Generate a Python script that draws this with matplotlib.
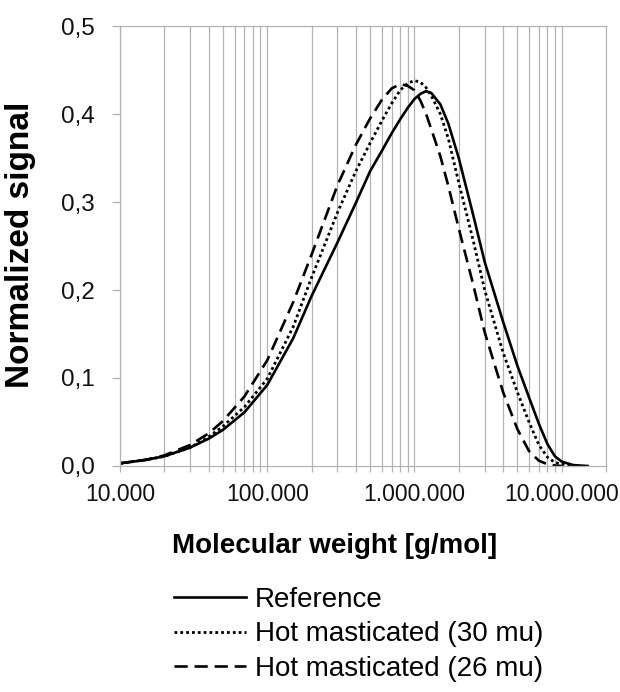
import numpy as np
import matplotlib
matplotlib.use("Agg")
import matplotlib.pyplot as plt
from matplotlib.ticker import FixedLocator, FuncFormatter, NullFormatter

plt.rcParams['font.family'] = ['Liberation Sans', 'DejaVu Sans']

# molecular weight [g/mol]
mw = [1e4, 1.5e4, 2e4, 3e4, 4e4, 5e4, 7e4, 1e5, 1.5e5, 2e5, 3e5, 4e5, 5e5, 6e5,
      7e5, 8e5, 9e5, 1e6, 1.1e6, 1.2e6, 1.3e6, 1.5e6, 1.7e6, 2e6, 2.5e6, 3e6,
      4e6, 5e6, 6e6, 7e6, 8e6, 9e6, 1e7, 1.2e7, 1.5e7]

reference = [0.003, 0.007, 0.011, 0.021, 0.031, 0.041, 0.061, 0.092, 0.145, 0.193,
             0.254, 0.299, 0.335, 0.358, 0.378, 0.394, 0.407, 0.417, 0.423, 0.426,
             0.424, 0.411, 0.389, 0.350, 0.286, 0.232, 0.164, 0.114, 0.078, 0.048,
             0.025, 0.011, 0.005, 0.001, 0.0]

hot_30 = [0.003, 0.007, 0.011, 0.021, 0.033, 0.045, 0.067, 0.099, 0.158, 0.214,
          0.288, 0.335, 0.367, 0.392, 0.412, 0.427, 0.435, 0.438, 0.436, 0.430,
          0.421, 0.400, 0.372, 0.322, 0.257, 0.200, 0.129, 0.084, 0.050, 0.024,
          0.010, 0.004, 0.002, 0.0005, np.nan]

hot_26 = [0.003, 0.007, 0.012, 0.024, 0.037, 0.051, 0.079, 0.120, 0.186, 0.240,
          0.319, 0.365, 0.395, 0.416, 0.429, 0.434, 0.432, 0.427, 0.415, 0.400,
          0.383, 0.352, 0.318, 0.270, 0.207, 0.152, 0.084, 0.042, 0.017, 0.006,
          0.002, 0.0005, 0.0, np.nan, np.nan]

labels = ["Reference", "Hot masticated (30 mu)", "Hot masticated (26 mu)"]

grid_c = "#b3b3b3"

fig = plt.figure(figsize=(6.2, 6.92), dpi=100)
ax = fig.add_axes([0.1935, 0.3266, 0.7839, 0.6358])

ax.plot(mw, reference, color="black", lw=1.9, label=labels[0])
ax.plot(mw, hot_30, color="black", lw=2.0, linestyle=(0, (1, 1.1)), label=labels[1])
ax.plot(mw, hot_26, color="black", lw=1.9, linestyle=(0, (5, 2.6)), label=labels[2])

ax.set_xscale("log")
ax.set_xlim(1e4, 2e7)
ax.set_ylim(0, 0.5)

# vertical grid at every 1..9 x 10^k
vgrid = [m * 10 ** k for k in range(4, 7) for m in range(1, 10)] + [1e7]
for g in vgrid:
    ax.axvline(g, color=grid_c, lw=0.9, zorder=0)

ax.xaxis.set_major_locator(FixedLocator([1e4, 1e5, 1e6, 1e7]))
ax.xaxis.set_minor_locator(FixedLocator([g for g in vgrid if g not in (1e4, 1e5, 1e6, 1e7)] + [2e7]))
ax.xaxis.set_minor_formatter(NullFormatter())
ax.xaxis.set_major_formatter(FuncFormatter(lambda v, p: f"{int(round(v)):,}".replace(",", ".")))
ax.set_yticks([0, 0.1, 0.2, 0.3, 0.4, 0.5])
ax.yaxis.set_major_formatter(FuncFormatter(lambda v, p: f"{v:.1f}".replace(".", ",")))

ax.tick_params(axis="both", which="both", direction="out", color=grid_c, length=4.5,
               width=0.9, labelcolor="#111111")
ax.tick_params(axis="x", which="major", pad=8, labelsize=16.5)
ax.tick_params(axis="y", which="major", length=6, pad=12, labelsize=17.5)

for s in ax.spines.values():
    s.set_color(grid_c)
    s.set_linewidth(0.9)

fig.text(335 / 620, 1 - 546 / 692, "Molecular weight [g/mol]", ha="center", va="center",
         fontsize=20, fontweight="bold")
fig.text(21 / 620, 1 - 245 / 692, "Normalized signal", ha="center", va="center",
         rotation=90, fontsize=24, fontweight="bold")

fig.legend(loc="upper left", bbox_to_anchor=(174 / 620, 1 - 587 / 692), frameon=False,
           fontsize=20, handlelength=2.6, handletextpad=0.32, labelspacing=0.3,
           borderpad=0, borderaxespad=0)

fig.savefig("out.png", dpi=100)
